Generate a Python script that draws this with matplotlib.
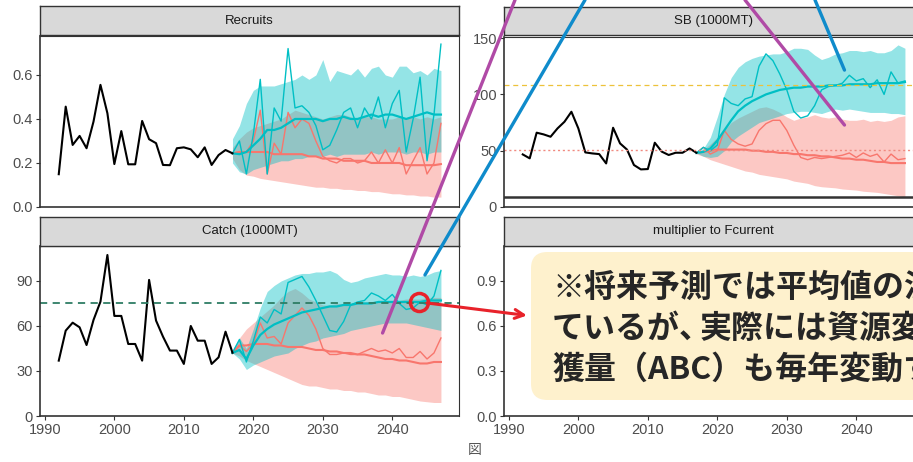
import numpy as np
import matplotlib
matplotlib.use("Agg")
import matplotlib.pyplot as plt
from matplotlib.patches import FancyBboxPatch, ConnectionPatch

plt.rcParams['font.family'] = ['Liberation Sans', 'DejaVu Sans']

# ---- data ----
obs_years = np.arange(1992, 2018)
proj_years = np.arange(2017, 2048)

rec_obs = [0.149, 0.456, 0.282, 0.323, 0.267, 0.388, 0.555, 0.426, 0.195, 0.345, 0.194, 0.194, 0.391,
           0.308, 0.290, 0.191, 0.190, 0.267, 0.271, 0.262, 0.226, 0.271, 0.191, 0.236, 0.259, 0.244]
rec_teal_med = [0.244, 0.24, 0.25, 0.28, 0.31, 0.35, 0.35, 0.36, 0.38, 0.40, 0.40, 0.40, 0.40, 0.39, 0.40, 0.40,
                0.41, 0.40, 0.40, 0.41, 0.42, 0.41, 0.42, 0.42, 0.41, 0.40, 0.41, 0.42, 0.43, 0.42, 0.42]
rec_teal_one = [0.244, 0.30, 0.15, 0.33, 0.58, 0.15, 0.45, 0.39, 0.72, 0.45, 0.46, 0.43, 0.37, 0.26, 0.28, 0.35,
                0.43, 0.45, 0.36, 0.45, 0.40, 0.50, 0.36, 0.47, 0.53, 0.25, 0.40, 0.59, 0.21, 0.42, 0.74]
rec_teal_lo = [0.20, 0.16, 0.15, 0.17, 0.18, 0.19, 0.20, 0.21, 0.21, 0.22, 0.22, 0.23, 0.23, 0.23, 0.24, 0.23,
               0.24, 0.24, 0.24, 0.24, 0.25, 0.24, 0.25, 0.25, 0.25, 0.24, 0.25, 0.25, 0.24, 0.25, 0.25]
rec_teal_hi = [0.31, 0.37, 0.47, 0.53, 0.55, 0.55, 0.55, 0.56, 0.57, 0.58, 0.60, 0.58, 0.60, 0.67, 0.57, 0.62,
               0.61, 0.60, 0.63, 0.59, 0.63, 0.64, 0.60, 0.59, 0.64, 0.64, 0.61, 0.62, 0.60, 0.63, 0.62]
rec_red_med = [0.244, 0.25, 0.25, 0.25, 0.25, 0.25, 0.24, 0.24, 0.24, 0.24, 0.24, 0.23, 0.23, 0.22, 0.22, 0.22,
               0.21, 0.21, 0.21, 0.21, 0.20, 0.20, 0.20, 0.20, 0.20, 0.19, 0.19, 0.19, 0.19, 0.19, 0.195]
rec_red_one = [0.244, 0.25, 0.25, 0.30, 0.44, 0.15, 0.29, 0.24, 0.43, 0.36, 0.40, 0.38, 0.30, 0.23, 0.21, 0.20,
               0.22, 0.22, 0.20, 0.21, 0.25, 0.20, 0.26, 0.20, 0.27, 0.15, 0.21, 0.27, 0.15, 0.20, 0.38]
rec_red_lo = [0.22, 0.17, 0.145, 0.14, 0.13, 0.125, 0.12, 0.115, 0.11, 0.105, 0.10, 0.095, 0.09, 0.09, 0.085,
              0.085, 0.08, 0.08, 0.075, 0.075, 0.07, 0.07, 0.065, 0.06, 0.06, 0.055, 0.055, 0.05, 0.05, 0.045, 0.045]
rec_red_hi = [0.27, 0.31, 0.34, 0.36, 0.37, 0.38, 0.39, 0.40, 0.42, 0.44, 0.43, 0.42, 0.41, 0.40, 0.41, 0.42,
              0.42, 0.41, 0.40, 0.41, 0.41, 0.40, 0.40, 0.40, 0.41, 0.40, 0.41, 0.40, 0.41, 0.40, 0.41]

sb_obs = [46.7, 43.2, 66.0, 64.5, 62.4, 69.8, 75.7, 84.6, 69.8, 48.5, 47.6, 47.0, 38.7,
          70.4, 56.5, 51.0, 37.3, 33.4, 33.7, 57.1, 49.2, 46.2, 48.2, 48.2, 52.0, 48.2]
sb_teal_med = [48, 49, 52, 59, 68, 77, 85, 90, 94, 97, 100, 102, 104, 105, 106, 106,
               107, 107, 107, 108, 108, 108, 109, 109, 109, 109, 110, 110, 110, 110, 111]
sb_teal_one = [48, 53, 50, 55, 97, 92, 90, 96, 98, 125, 136, 130, 118, 104, 85, 79,
               81, 90, 104, 107, 108, 110, 117, 112, 114, 106, 113, 100, 120, 110, 112]
sb_teal_lo = [48, 45, 44, 45, 50, 58, 63, 67, 71, 75, 77, 79, 81, 83, 84, 85,
              85, 84, 83, 85, 87, 86, 87, 86, 85, 84, 84, 84, 83, 83, 82]
sb_teal_hi = [49, 52, 62, 80, 100, 115, 124, 129, 132, 134, 135, 136, 136, 138, 141, 141,
              140, 135, 131, 133, 136, 137, 139, 139, 138, 139, 137, 137, 139, 144, 141]
sb_red_med = [48, 49, 50, 51, 51, 51, 51, 51, 50, 50, 49, 49, 48, 48, 47, 47,
              46, 46, 45, 45, 44, 43, 43, 42, 42, 41, 40, 40, 39, 39, 39]
sb_red_one = [48, 53, 47, 50, 68, 60, 56, 54, 56, 68, 74, 77, 77, 68, 55, 44,
              42, 44, 43, 44, 45, 46, 48, 44, 48, 45, 47, 40, 47, 42, 43]
sb_red_lo = [47, 45, 42, 40, 38, 36, 34, 32, 31, 29, 28, 27, 26, 25, 23, 22,
             21, 19, 18, 17.5, 17, 16, 15.5, 15, 14, 13.5, 13, 12, 11, 10, 9]
sb_red_hi = [48, 51, 56, 62, 68, 75, 79, 82, 85, 88, 89, 87, 84, 80, 77, 79,
             80, 82, 80, 79, 80, 78, 77, 77, 78, 76, 77, 76, 77, 80, 81]
sb_target = 108
sb_limit = 50.5
sb_ban = 8.5

catch_obs = [36.9, 56.9, 62.2, 59.1, 47.3, 64.0, 76.2, 107.3, 66.7, 66.7, 48.0, 48.0, 36.9,
             90.7, 63.6, 52.9, 43.6, 43.6, 34.7, 60.0, 50.2, 50.2, 34.7, 39.1, 56.2, 42.2]
catch_teal_med = [42, 44, 38, 47, 54, 58, 61, 63, 65, 67, 69, 70, 71, 72, 73, 73,
                  74, 74, 75, 75, 75, 76, 76, 76, 76, 76, 76, 76, 77, 77, 77]
catch_teal_one = [42.2, 51, 36, 50, 66, 62, 71, 68, 89, 91, 93, 86, 77, 67, 57, 56,
                  63, 74, 76, 77, 82, 80, 77, 81, 75, 71, 72, 76, 74, 80, 97]
catch_teal_lo = [42, 38, 31, 34, 36, 38, 40, 41, 42, 45, 47, 49, 50, 52, 53, 54,
                 55, 57, 58, 59, 60, 61, 62, 62, 62, 62, 61, 60, 59, 58, 57]
catch_teal_hi = [44, 52, 45, 58, 72, 83, 87, 90, 92, 94, 95, 95, 96, 96, 97, 95,
                 91, 89, 90, 92, 93, 94, 95, 94, 94, 93, 94, 93, 94, 96, 97]
catch_red_med = [42, 47, 47, 48, 48, 48, 47, 47, 46, 46, 46, 45, 44, 44, 43, 43,
                 42, 42, 41, 41, 40, 39, 38, 38, 37, 37, 36, 35, 35, 36, 36]
catch_red_one = [42, 47, 43, 48, 62, 52, 53, 48, 62, 67, 72, 67, 58, 45, 41, 41,
                 42, 41, 41, 43, 45, 43, 44, 42, 45, 39, 39, 43, 38, 42, 52]
catch_red_lo = [42, 40, 37, 35, 33, 31, 29, 27, 25, 23, 21, 20, 20, 19, 18, 18,
                17, 17, 16, 16, 15, 14, 14, 13, 13, 12, 11, 10, 9.5, 9, 9]
catch_red_hi = [43, 52, 58, 62, 66, 70, 74, 79, 83, 85, 82, 78, 76, 74, 74, 75,
                75, 75, 75, 76, 76, 77, 77, 77, 77, 78, 78, 78, 79, 79, 79]
catch_msy = 75.5

panel_titles = ["Recruits", "SB (1000MT)", "Catch (1000MT)", "multiplier to Fcurrent"]
x_ticks = [1990, 2000, 2010, 2020, 2030, 2040]

# the slide crops this box at the right edge, so the lines run past the figure.
# line 2 is split so the comma can be set narrow like the slide font
callout_pieces = [[("※将来予測では平均値の決定論的推移を示し", 552)],
                  [("ているが、", 552), ("実際には資源変動により漁", 700)],
                  [("獲量（ABC）も毎年変動する。", 552)]]
callout_rows = [287, 329, 370]

# annotation anchor points (data units of the panels they point at)
circle_pt = (2043.8, 76)
arrow_tip = (1992.6, 0.67)
purple_catch_pt = (2038.6, 55.3)
blue_catch_pt = (2044.7, 94)
purple_sb_pt = (2038.3, 72.8)
blue_sb_pt = (2038.3, 121.6)

TEAL = "#00BFC4"
RED = "#F8766D"
PURPLE = "#B04AA6"
BLUE = "#0F8BCB"
ANN_RED = "#E8222A"

# ---- layout in pixels ----
W, H = 913, 462
fig = plt.figure(figsize=(W / 100, H / 100), dpi=100)


def px_rect(x0, y0, x1, y1):
    return [x0 / W, 1 - y1 / H, (x1 - x0) / W, (y1 - y0) / H]


def add_strip(rect, label):
    sax = fig.add_axes(rect)
    sax.set_facecolor("#d9d9d9")
    sax.set_xticks([])
    sax.set_yticks([])
    for s in sax.spines.values():
        s.set_color("#333333")
        s.set_linewidth(1.0)
    sax.text(0.5, 0.5, label, ha="center", va="center", fontsize=9.5,
             color="#1a1a1a", transform=sax.transAxes)


def style_axis(ax, yticks, ylim, fmt, show_x):
    ax.set_xlim(1989.3, 2049.6)
    ax.set_ylim(*ylim)
    ax.set_yticks(yticks)
    ax.set_yticklabels([fmt.format(v) for v in yticks])
    if show_x:
        ax.set_xticks(x_ticks)
    else:
        ax.set_xticks([])
    ax.tick_params(colors="#333333", labelcolor="#4d4d4d", labelsize=10.5,
                   length=3, width=0.8, pad=2)
    for name, s in ax.spines.items():
        s.set_color("#333333")
        s.set_linewidth(1.2 if name in ("left", "bottom") else 0.8)


def draw_series(ax, obs, t_med, t_one, t_lo, t_hi, r_med, r_one, r_lo, r_hi):
    ax.fill_between(proj_years, r_lo, r_hi, color=RED, alpha=0.4, lw=0)
    ax.fill_between(proj_years, t_lo, t_hi, color=TEAL, alpha=0.42, lw=0)
    ax.plot(proj_years, r_one, color=RED, lw=1.0)
    ax.plot(proj_years, r_med, color=RED, lw=1.5)
    ax.plot(proj_years, t_one, color=TEAL, lw=1.0)
    ax.plot(proj_years, t_med, color=TEAL, lw=1.6)
    ax.plot(obs_years, obs, color="black", lw=1.5)


# Recruits
ax_rec = fig.add_axes(px_rect(40, 36, 459, 207))
draw_series(ax_rec, rec_obs, rec_teal_med, rec_teal_one, rec_teal_lo, rec_teal_hi,
            rec_red_med, rec_red_one, rec_red_lo, rec_red_hi)
style_axis(ax_rec, [0, 0.2, 0.4, 0.6], (0, 0.777), "{:.1f}", False)
add_strip(px_rect(40, 6, 459, 35), panel_titles[0])

# SB
ax_sb = fig.add_axes(px_rect(504, 37, 923, 207))
draw_series(ax_sb, sb_obs, sb_teal_med, sb_teal_one, sb_teal_lo, sb_teal_hi,
            sb_red_med, sb_red_one, sb_red_lo, sb_red_hi)
ax_sb.axhline(sb_target, color="#EDC23A", ls=(0, (4, 3)), lw=0.9)
ax_sb.axhline(sb_limit, color="#F08A80", ls=(0, (1.5, 2)), lw=1.0)
ax_sb.axhline(sb_ban, color="#333333", lw=1.8)
style_axis(ax_sb, [0, 50, 100, 150], (0, 151), "{:.0f}", False)
add_strip(px_rect(504, 7, 923, 35), panel_titles[1])

# Catch
ax_catch = fig.add_axes(px_rect(40, 246, 459, 416))
draw_series(ax_catch, catch_obs, catch_teal_med, catch_teal_one, catch_teal_lo, catch_teal_hi,
            catch_red_med, catch_red_one, catch_red_lo, catch_red_hi)
ax_catch.axhline(catch_msy, color="#2E7D64", ls=(0, (4, 3)), lw=1.3)
style_axis(ax_catch, [0, 30, 60, 90], (0, 113.3), "{:.0f}", True)
add_strip(px_rect(40, 217, 459, 246), panel_titles[2])

# multiplier
ax_mult = fig.add_axes(px_rect(504, 246, 923, 416))
style_axis(ax_mult, [0, 0.3, 0.6, 0.9], (0, 1.133), "{:.1f}", True)
add_strip(px_rect(504, 217, 923, 246), panel_titles[3])

# ---- slide annotations ----
for pt, ax, top_x, col in [(purple_catch_pt, ax_catch, 515, PURPLE),
                           (blue_catch_pt, ax_catch, 585, BLUE),
                           (purple_sb_pt, ax_sb, 745, PURPLE),
                           (blue_sb_pt, ax_sb, 815, BLUE)]:
    cp = ConnectionPatch(xyA=pt, coordsA=ax.transData, xyB=(top_x / W, 1.0),
                         coordsB=fig.transFigure, color=col, lw=2.4)
    cp.set_zorder(15)
    fig.add_artist(cp)

ax_catch.plot([circle_pt[0]], [circle_pt[1]], marker="o", ms=13, mfc="none",
              mec=ANN_RED, mew=2.5, clip_on=False, zorder=20)
arr = ConnectionPatch(xyA=circle_pt, coordsA=ax_catch.transData, xyB=arrow_tip,
                      coordsB=ax_mult.transData, arrowstyle="->", mutation_scale=16,
                      color=ANN_RED, lw=2.2, shrinkA=6, shrinkB=0)
arr.set_zorder(22)
fig.add_artist(arr)

box = FancyBboxPatch((531 / W, 1 - 400 / H), 420 / W, 148 / H,
                     boxstyle="round,pad=0,rounding_size=0.018", mutation_aspect=W / H,
                     transform=fig.transFigure, facecolor="#FEF1CD", edgecolor="none")
box.set_zorder(20)
fig.add_artist(box)

for pieces, ypx in zip(callout_pieces, callout_rows):
    for txt, xpx in pieces:
        fig.text(xpx / W, 1 - ypx / H, txt, fontsize=23, fontweight="bold", color="#262626",
                 family=["Noto Sans CJK JP", "DejaVu Sans"], ha="left", va="center", zorder=21)

fig.text(475 / W, 1 - 450 / H, "図", fontsize=10, color="#555555",
         family=["Noto Sans CJK JP", "DejaVu Sans"], ha="center", va="center")

fig.savefig("out.png", dpi=100)
